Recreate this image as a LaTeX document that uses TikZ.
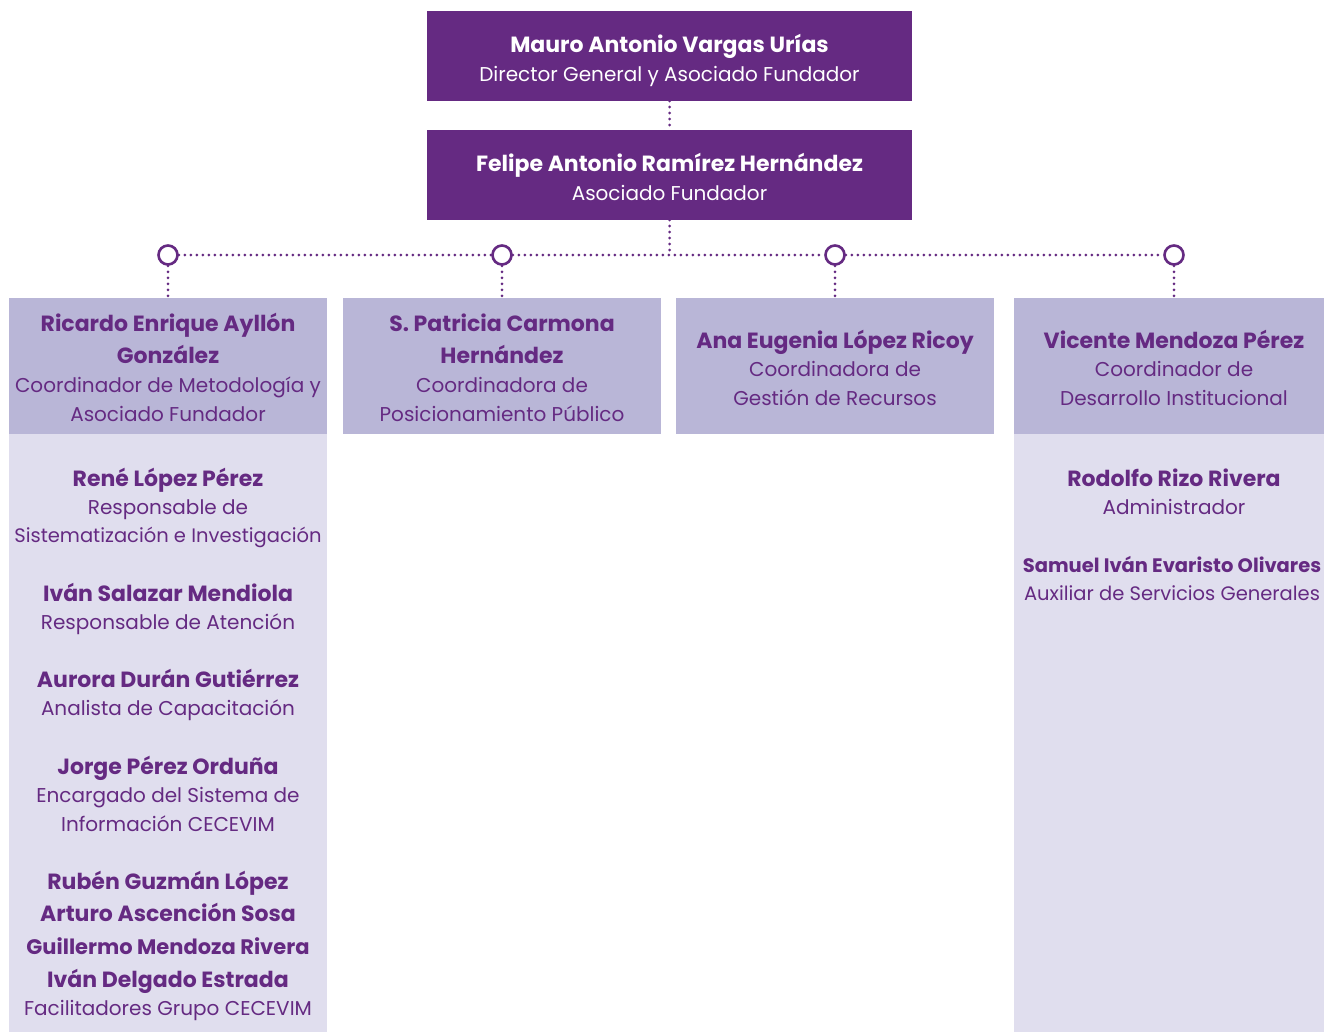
\documentclass[tikz,border=0pt]{standalone}
\usepackage{fontspec}
\setmainfont{Poppins}
\definecolor{dpurple}{RGB}{101,42,130}
\definecolor{midlav}{RGB}{185,182,215}
\definecolor{lightlav}{RGB}{224,222,238}
\begin{document}
\begin{tikzpicture}[x=1pt,y=-1pt,
  box/.style={draw=none, inner sep=0pt, outer sep=0pt, anchor=north west},
  topbox/.style={box, fill=dpurple, minimum width=485pt, minimum height=90pt},
  coordbox/.style={box, fill=midlav, minimum width=318pt, minimum height=136pt},
  subbox/.style={box, fill=lightlav, minimum width=318pt, minimum height=600pt},
  nm/.style={anchor=base, inner sep=0pt, font=\fontsize{22}{24}\selectfont\bfseries, text=dpurple},
  rl/.style={anchor=base, inner sep=0pt, font=\fontsize{20}{22}\selectfont, text=dpurple},
  wnm/.style={nm, text=white},
  wrl/.style={rl, text=white},
  dots/.style={draw=dpurple, line width=3pt, line cap=round, dash pattern=on 0pt off 6pt},
  ring/.style={circle, draw=dpurple, fill=white, line width=2.6pt, minimum size=19pt, inner sep=0pt}
]
\clip (0,0) rectangle (1324,1031);
\fill[white] (0,0) rectangle (1324,1031);

% boxes
\node[topbox] (dir) at (427,11) {};
\node[topbox] (fel) at (427,130) {};
\node[subbox] (sub1) at (9,434) {};
\node[subbox, minimum width=320pt] (sub4) at (1014,434) {};
\node[coordbox] (co1) at (9,298) {};
\node[coordbox] (co2) at (343,298) {};
\node[coordbox] (co3) at (676,298) {};
\node[coordbox, minimum width=320pt] (co4) at (1014,298) {};

% connectors
\node[ring] (r1) at (168,255) {};
\node[ring] (r2) at (502,255) {};
\node[ring] (r3) at (835,255) {};
\node[ring] (r4) at (1174,255) {};
\coordinate (hub) at (669.5,255);
\draw[dots] (dir.south) -- (fel.north);
\draw[dots] (fel.south) -- (hub);
\draw[dots] (r1.east) -- (r2.west);
\draw[dots] (r2.east) -- (r3.west);
\draw[dots] (r3.east) -- (r4.west);
\draw[dots] (r1.south) -- (r1.south |- co1.north);
\draw[dots] (r2.south) -- (r2.south |- co2.north);
\draw[dots] (r3.south) -- (r3.south |- co3.north);
\draw[dots] (r4.south) -- (r4.south |- co4.north);

% top texts
\node[wnm] (t1a) at (669.5,52) {Mauro Antonio Vargas Urías};
\node[wrl] (t1b) at (669.5,81) {Director General y Asociado Fundador};
\node[wnm] (t2a) at (669.5,171) {Felipe Antonio Ramírez Hernández};
\node[wrl] (t2b) at (669.5,200) {Asociado Fundador};

% coordinator texts
\node[nm] (c1a) at (168,331) {Ricardo Enrique Ayllón};
\node[nm] (c1b) at (168,363) {González};
\node[rl] (c1c) at (168,392) {Coordinador de Metodología y};
\node[rl] (c1d) at (168,421) {Asociado Fundador};

\node[nm] (c2a) at (502,331) {S. Patricia Carmona};
\node[nm] (c2b) at (502,363) {Hernández};
\node[rl] (c2c) at (502,392) {Coordinadora de};
\node[rl] (c2d) at (502,421) {Posicionamiento Público};

\node[nm] (c3a) at (835,348) {Ana Eugenia López Ricoy};
\node[rl] (c3b) at (835,376) {Coordinadora de};
\node[rl] (c3c) at (835,405) {Gestión de Recursos};

\node[nm] (c4a) at (1174,348) {Vicente Mendoza Pérez};
\node[rl] (c4b) at (1174,376) {Coordinador de};
\node[rl] (c4c) at (1174,405) {Desarrollo Institucional};

% left column staff
\node[nm] (s1a) at (168,486) {René López Pérez};
\node[rl] (s1b) at (168,514) {Responsable de};
\node[rl, font=\fontsize{19.5}{22}\selectfont] (s1c) at (168,542) {Sistematización e Investigación};
\node[nm] (s2a) at (168,601) {Iván Salazar Mendiola};
\node[rl] (s2b) at (168,629) {Responsable de Atención};
\node[nm] (s3a) at (168,687) {Aurora Durán Gutiérrez};
\node[rl] (s3b) at (168,715) {Analista de Capacitación};
\node[nm] (s4a) at (168,774) {Jorge Pérez Orduña};
\node[rl] (s4b) at (168,802) {Encargado del Sistema de};
\node[rl] (s4c) at (168,831) {Información CECEVIM};
\node[nm] (s5a) at (168,889) {Rubén Guzmán López};
\node[nm] (s5b) at (168,921) {Arturo Ascención Sosa};
\node[nm, font=\fontsize{21}{24}\selectfont\bfseries] (s5c) at (168,954) {Guillermo Mendoza Rivera};
\node[nm] (s5d) at (168,987) {Iván Delgado Estrada};
\node[rl] (s5e) at (168,1015) {Facilitadores Grupo CECEVIM};

% right column staff
\node[nm] (s6a) at (1174,486) {Rodolfo Rizo Rivera};
\node[rl] (s6b) at (1174,514) {Administrador};
\node[nm, font=\fontsize{19.5}{24}\selectfont\bfseries] (s7a) at (1172,572) {Samuel Iván Evaristo Olivares};
\node[rl, font=\fontsize{19.5}{22}\selectfont] (s7b) at (1172,600) {Auxiliar de Servicios Generales};
\end{tikzpicture}
\end{document}
